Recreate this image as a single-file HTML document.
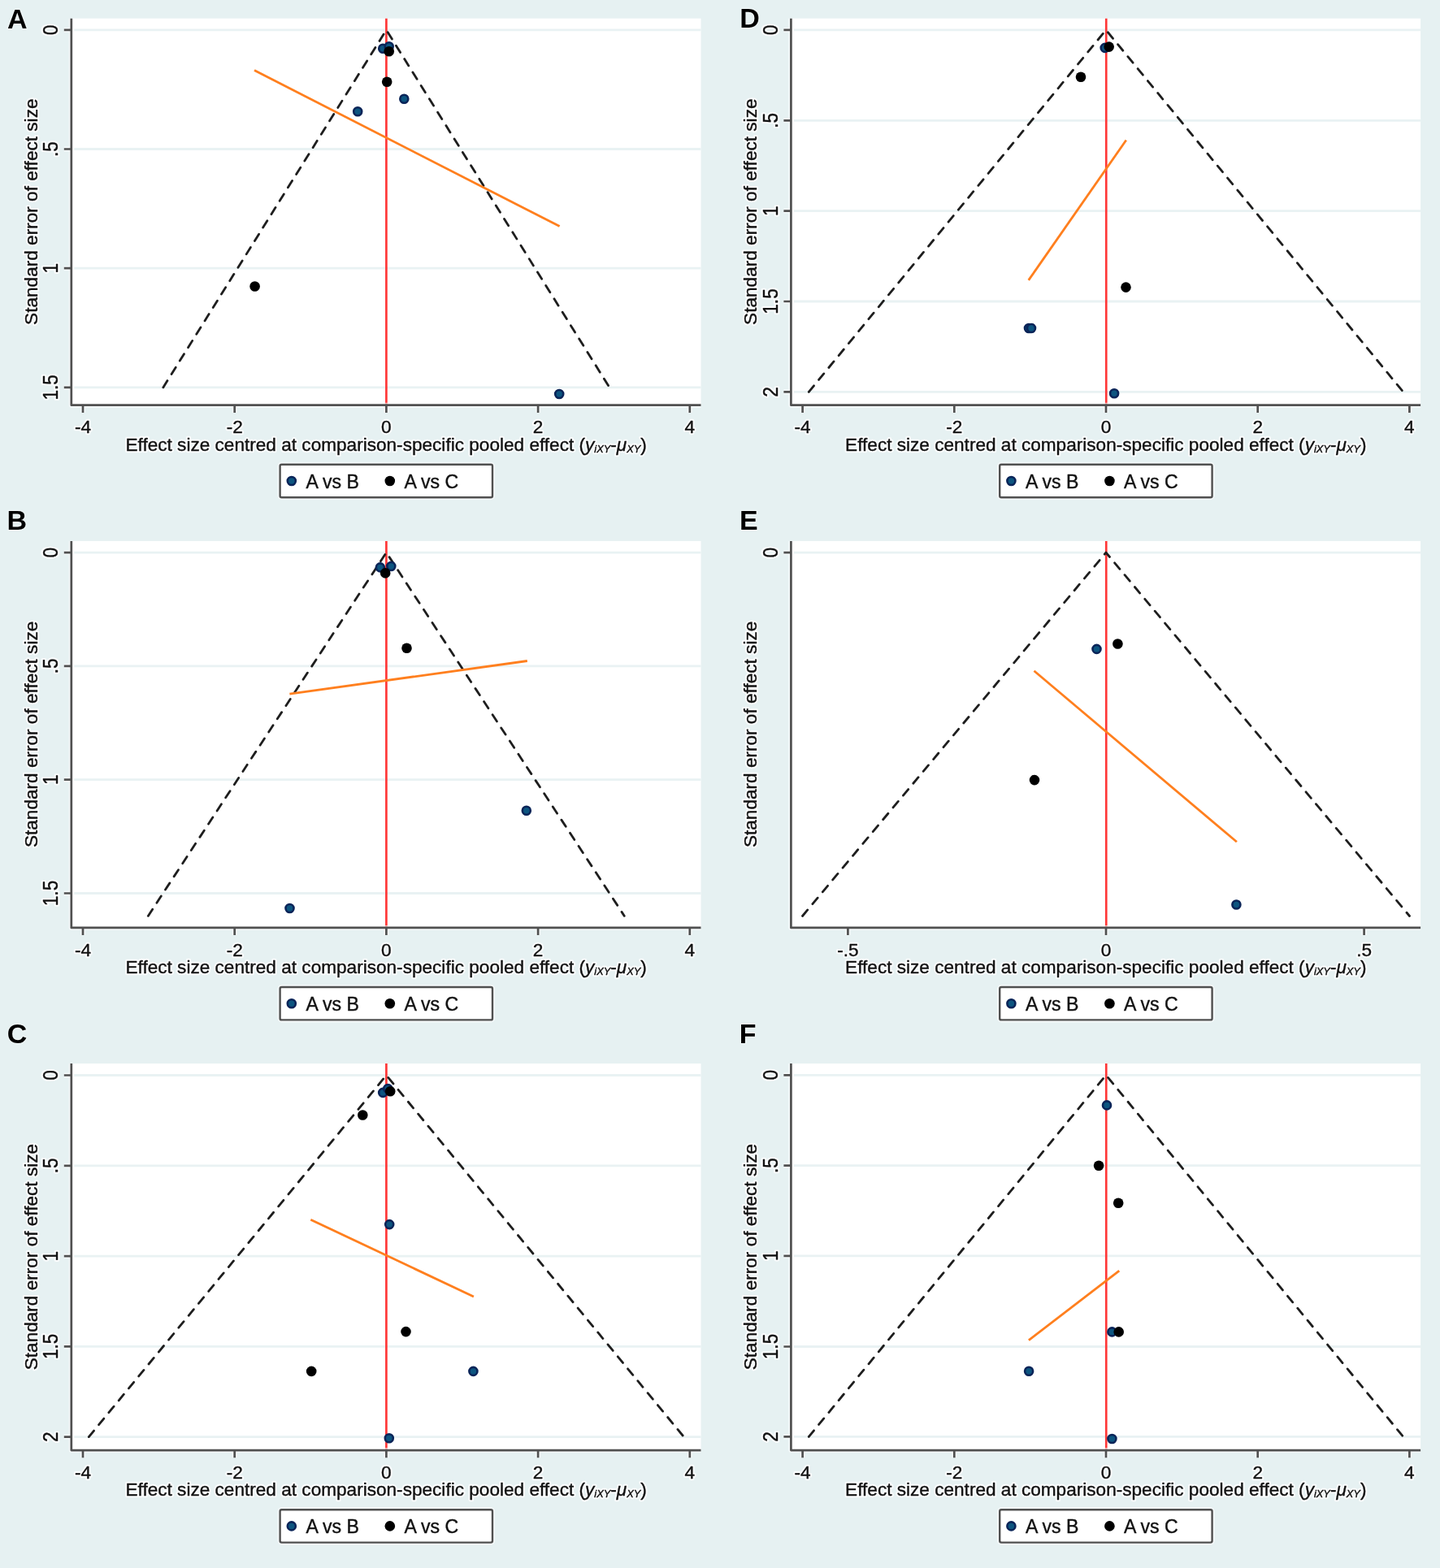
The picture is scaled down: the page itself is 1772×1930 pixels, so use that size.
<!DOCTYPE html>
<html><head><meta charset="utf-8"><title>Funnel plots</title>
<style>html,body{margin:0;padding:0;background:#e6f1f2;}svg{display:block;}text{font-family:'Liberation Sans', Arial, Helvetica, sans-serif;font-size:22.6px;}.t{fill:#111;stroke:#111;stroke-width:0.4px;stroke-linejoin:round;}.h{fill:none;stroke:#fff;stroke-width:4.4px;stroke-opacity:0.8;stroke-linejoin:round;}.m{text-anchor:middle;}</style></head><body>
<svg width="1772" height="1930" viewBox="0 0 1772 1930">
<rect x="0" y="0" width="1772" height="1930" fill="#e6f1f2"/>
<g>
<rect x="87.8" y="22.7" width="774.7" height="476" fill="#ffffff"/>
<line x1="91.3" y1="36.9" x2="862.5" y2="36.9" stroke="#e9f2f3" stroke-width="2.8"/>
<line x1="91.3" y1="183.5" x2="862.5" y2="183.5" stroke="#e9f2f3" stroke-width="2.8"/>
<line x1="91.3" y1="330.2" x2="862.5" y2="330.2" stroke="#e9f2f3" stroke-width="2.8"/>
<line x1="91.3" y1="476.9" x2="862.5" y2="476.9" stroke="#e9f2f3" stroke-width="2.8"/>
<line x1="475.4" y1="22.7" x2="475.4" y2="498.7" stroke="#ff3838" stroke-width="2.7"/>
<path d="M200.8 476.9L475.4 36.9L750 476.9" fill="none" stroke="#1e1e1e" stroke-width="2.8" stroke-dasharray="9.8 9.535" stroke-linecap="round" stroke-linejoin="round"/>
<line x1="313" y1="86.5" x2="688.6" y2="278.6" stroke="#ff7f1e" stroke-width="2.8"/>
<circle cx="471.2" cy="59.7" r="5.0" fill="#0d5580" stroke="#0a2458" stroke-width="2.6"/>
<circle cx="478.7" cy="57.2" r="5.0" fill="#0d5580" stroke="#0a2458" stroke-width="2.6"/>
<circle cx="478.7" cy="63.2" r="6.3" fill="#000000"/>
<circle cx="476.2" cy="100.7" r="6.3" fill="#000000"/>
<circle cx="497.3" cy="121.8" r="5.0" fill="#0d5580" stroke="#0a2458" stroke-width="2.6"/>
<circle cx="440.2" cy="137.2" r="5.0" fill="#0d5580" stroke="#0a2458" stroke-width="2.6"/>
<circle cx="688.2" cy="485" r="5.0" fill="#0d5580" stroke="#0a2458" stroke-width="2.6"/>
<circle cx="313.6" cy="352.5" r="6.3" fill="#000000"/>
<path d="M87.8 22.7L87.8 498.7L862.5 498.7M78.8 36.9H87.8M78.8 183.5H87.8M78.8 330.2H87.8M78.8 476.9H87.8M102 498.7V507.9M288.7 498.7V507.9M475.4 498.7V507.9M662.1 498.7V507.9M848.8 498.7V507.9" fill="none" stroke="#fff" stroke-opacity="0.6" stroke-width="6" stroke-linejoin="round"/>
<path d="M87.8 22.7L87.8 498.7L862.5 498.7M78.8 36.9H87.8M78.8 183.5H87.8M78.8 330.2H87.8M78.8 476.9H87.8M102 498.7V507.9M288.7 498.7V507.9M475.4 498.7V507.9M662.1 498.7V507.9M848.8 498.7V507.9" fill="none" stroke="#505050" stroke-width="2.7" stroke-linejoin="round"/>
<text transform="translate(70.9 36.9) rotate(-90) scale(1 1.12)" class="h m">0</text>
<text transform="translate(70.9 36.9) rotate(-90) scale(1 1.12)" class="t m">0</text>
<text transform="translate(70.9 183.5) rotate(-90) scale(1 1.12)" class="h m">.5</text>
<text transform="translate(70.9 183.5) rotate(-90) scale(1 1.12)" class="t m">.5</text>
<text transform="translate(70.9 330.2) rotate(-90) scale(1 1.12)" class="h m">1</text>
<text transform="translate(70.9 330.2) rotate(-90) scale(1 1.12)" class="t m">1</text>
<text transform="translate(70.9 476.9) rotate(-90) scale(1 1.12)" class="h m">1.5</text>
<text transform="translate(70.9 476.9) rotate(-90) scale(1 1.12)" class="t m">1.5</text>
<text x="102" y="533.4" class="h m">-4</text>
<text x="102" y="533.4" class="t m">-4</text>
<text x="288.7" y="533.4" class="h m">-2</text>
<text x="288.7" y="533.4" class="t m">-2</text>
<text x="475.4" y="533.4" class="h m">0</text>
<text x="475.4" y="533.4" class="t m">0</text>
<text x="662.1" y="533.4" class="h m">2</text>
<text x="662.1" y="533.4" class="t m">2</text>
<text x="848.8" y="533.4" class="h m">4</text>
<text x="848.8" y="533.4" class="t m">4</text>
<text x="475.15" y="554.9" class="h m">Effect size centred at comparison-specific pooled effect (<tspan font-style="italic">y</tspan><tspan font-style="italic" font-size="12.8" dy="1.6">iXY</tspan><tspan dy="-1.6">-</tspan><tspan font-style="italic">&#956;</tspan><tspan font-style="italic" font-size="12.8" dy="1.6">XY</tspan><tspan dy="-1.6">)</tspan></text>
<text x="475.15" y="554.9" class="t m">Effect size centred at comparison-specific pooled effect (<tspan font-style="italic">y</tspan><tspan font-style="italic" font-size="12.8" dy="1.6">iXY</tspan><tspan dy="-1.6">-</tspan><tspan font-style="italic">&#956;</tspan><tspan font-style="italic" font-size="12.8" dy="1.6">XY</tspan><tspan dy="-1.6">)</tspan></text>
<text transform="translate(45.6 260.7) rotate(-90)" class="h m">Standard error of effect size</text>
<text transform="translate(45.6 260.7) rotate(-90)" class="t m">Standard error of effect size</text>
<rect x="344.6" y="571.8" width="261.4" height="40.4" rx="2" ry="2" fill="none" stroke="#fff" stroke-opacity="0.6" stroke-width="6"/>
<rect x="344.6" y="571.8" width="261.4" height="40.4" rx="2" ry="2" fill="#ffffff" stroke="#505050" stroke-width="2.4"/>
<circle cx="358.8" cy="592" r="5.0" fill="#0d5580" stroke="#0a2458" stroke-width="2.6"/>
<text x="376.4" y="600.9" class="h" style="font-size:23.1px">A vs B</text>
<text x="376.4" y="600.9" class="t" style="font-size:23.1px">A vs B</text>
<circle cx="479.8" cy="592" r="6.3" fill="#000000"/>
<text x="497.4" y="600.9" class="h" style="font-size:23.1px">A vs C</text>
<text x="497.4" y="600.9" class="t" style="font-size:23.1px">A vs C</text>
</g>
<text x="8.97" y="34.6" style="font-size:34px;font-weight:bold" fill="#000" stroke="#fff" stroke-width="2.5" stroke-opacity="0.35" paint-order="stroke">A</text>
<g>
<rect x="87.8" y="665.9" width="774.7" height="476" fill="#ffffff"/>
<line x1="91.3" y1="680.1" x2="862.5" y2="680.1" stroke="#e9f2f3" stroke-width="2.8"/>
<line x1="91.3" y1="819.9" x2="862.5" y2="819.9" stroke="#e9f2f3" stroke-width="2.8"/>
<line x1="91.3" y1="959.7" x2="862.5" y2="959.7" stroke="#e9f2f3" stroke-width="2.8"/>
<line x1="91.3" y1="1099.5" x2="862.5" y2="1099.5" stroke="#e9f2f3" stroke-width="2.8"/>
<line x1="475.4" y1="665.9" x2="475.4" y2="1141.9" stroke="#ff3838" stroke-width="2.7"/>
<path d="M182.3 1127.4L475.4 680.1L768.3 1127.4" fill="none" stroke="#1e1e1e" stroke-width="2.8" stroke-dasharray="9.8 9.535" stroke-linecap="round" stroke-linejoin="round"/>
<line x1="356.4" y1="854.1" x2="648.8" y2="813.5" stroke="#ff7f1e" stroke-width="2.8"/>
<circle cx="467.9" cy="698.4" r="5.0" fill="#0d5580" stroke="#0a2458" stroke-width="2.6"/>
<circle cx="481.3" cy="697" r="5.0" fill="#0d5580" stroke="#0a2458" stroke-width="2.6"/>
<circle cx="474.2" cy="705.4" r="6.3" fill="#000000"/>
<circle cx="500.5" cy="797.7" r="6.3" fill="#000000"/>
<circle cx="647.8" cy="997.7" r="5.0" fill="#0d5580" stroke="#0a2458" stroke-width="2.6"/>
<circle cx="356.5" cy="1118" r="5.0" fill="#0d5580" stroke="#0a2458" stroke-width="2.6"/>
<path d="M87.8 665.9L87.8 1141.9L862.5 1141.9M78.8 680.1H87.8M78.8 819.9H87.8M78.8 959.7H87.8M78.8 1099.5H87.8M102 1141.9V1151.1M288.7 1141.9V1151.1M475.4 1141.9V1151.1M662.1 1141.9V1151.1M848.8 1141.9V1151.1" fill="none" stroke="#fff" stroke-opacity="0.6" stroke-width="6" stroke-linejoin="round"/>
<path d="M87.8 665.9L87.8 1141.9L862.5 1141.9M78.8 680.1H87.8M78.8 819.9H87.8M78.8 959.7H87.8M78.8 1099.5H87.8M102 1141.9V1151.1M288.7 1141.9V1151.1M475.4 1141.9V1151.1M662.1 1141.9V1151.1M848.8 1141.9V1151.1" fill="none" stroke="#505050" stroke-width="2.7" stroke-linejoin="round"/>
<text transform="translate(70.9 680.1) rotate(-90) scale(1 1.12)" class="h m">0</text>
<text transform="translate(70.9 680.1) rotate(-90) scale(1 1.12)" class="t m">0</text>
<text transform="translate(70.9 819.9) rotate(-90) scale(1 1.12)" class="h m">.5</text>
<text transform="translate(70.9 819.9) rotate(-90) scale(1 1.12)" class="t m">.5</text>
<text transform="translate(70.9 959.7) rotate(-90) scale(1 1.12)" class="h m">1</text>
<text transform="translate(70.9 959.7) rotate(-90) scale(1 1.12)" class="t m">1</text>
<text transform="translate(70.9 1099.5) rotate(-90) scale(1 1.12)" class="h m">1.5</text>
<text transform="translate(70.9 1099.5) rotate(-90) scale(1 1.12)" class="t m">1.5</text>
<text x="102" y="1176.6" class="h m">-4</text>
<text x="102" y="1176.6" class="t m">-4</text>
<text x="288.7" y="1176.6" class="h m">-2</text>
<text x="288.7" y="1176.6" class="t m">-2</text>
<text x="475.4" y="1176.6" class="h m">0</text>
<text x="475.4" y="1176.6" class="t m">0</text>
<text x="662.1" y="1176.6" class="h m">2</text>
<text x="662.1" y="1176.6" class="t m">2</text>
<text x="848.8" y="1176.6" class="h m">4</text>
<text x="848.8" y="1176.6" class="t m">4</text>
<text x="475.15" y="1198.1" class="h m">Effect size centred at comparison-specific pooled effect (<tspan font-style="italic">y</tspan><tspan font-style="italic" font-size="12.8" dy="1.6">iXY</tspan><tspan dy="-1.6">-</tspan><tspan font-style="italic">&#956;</tspan><tspan font-style="italic" font-size="12.8" dy="1.6">XY</tspan><tspan dy="-1.6">)</tspan></text>
<text x="475.15" y="1198.1" class="t m">Effect size centred at comparison-specific pooled effect (<tspan font-style="italic">y</tspan><tspan font-style="italic" font-size="12.8" dy="1.6">iXY</tspan><tspan dy="-1.6">-</tspan><tspan font-style="italic">&#956;</tspan><tspan font-style="italic" font-size="12.8" dy="1.6">XY</tspan><tspan dy="-1.6">)</tspan></text>
<text transform="translate(45.6 903.9) rotate(-90)" class="h m">Standard error of effect size</text>
<text transform="translate(45.6 903.9) rotate(-90)" class="t m">Standard error of effect size</text>
<rect x="344.6" y="1215" width="261.4" height="40.4" rx="2" ry="2" fill="none" stroke="#fff" stroke-opacity="0.6" stroke-width="6"/>
<rect x="344.6" y="1215" width="261.4" height="40.4" rx="2" ry="2" fill="#ffffff" stroke="#505050" stroke-width="2.4"/>
<circle cx="358.8" cy="1235.2" r="5.0" fill="#0d5580" stroke="#0a2458" stroke-width="2.6"/>
<text x="376.4" y="1244.1" class="h" style="font-size:23.1px">A vs B</text>
<text x="376.4" y="1244.1" class="t" style="font-size:23.1px">A vs B</text>
<circle cx="479.8" cy="1235.2" r="6.3" fill="#000000"/>
<text x="497.4" y="1244.1" class="h" style="font-size:23.1px">A vs C</text>
<text x="497.4" y="1244.1" class="t" style="font-size:23.1px">A vs C</text>
</g>
<text x="8.5" y="651.9" style="font-size:34px;font-weight:bold" fill="#000" stroke="#fff" stroke-width="2.5" stroke-opacity="0.35" paint-order="stroke">B</text>
<g>
<rect x="87.8" y="1309.1" width="774.7" height="476" fill="#ffffff"/>
<line x1="91.3" y1="1323.5" x2="862.5" y2="1323.5" stroke="#e9f2f3" stroke-width="2.8"/>
<line x1="91.3" y1="1434.8" x2="862.5" y2="1434.8" stroke="#e9f2f3" stroke-width="2.8"/>
<line x1="91.3" y1="1546.1" x2="862.5" y2="1546.1" stroke="#e9f2f3" stroke-width="2.8"/>
<line x1="91.3" y1="1657.4" x2="862.5" y2="1657.4" stroke="#e9f2f3" stroke-width="2.8"/>
<line x1="91.3" y1="1768.6" x2="862.5" y2="1768.6" stroke="#e9f2f3" stroke-width="2.8"/>
<line x1="475.4" y1="1309.1" x2="475.4" y2="1785.1" stroke="#ff3838" stroke-width="2.7"/>
<path d="M109.3 1768.6L475.4 1323.5L841.5 1768.6" fill="none" stroke="#1e1e1e" stroke-width="2.8" stroke-dasharray="9.8 9.535" stroke-linecap="round" stroke-linejoin="round"/>
<line x1="382.3" y1="1501.2" x2="582.9" y2="1596" stroke="#ff7f1e" stroke-width="2.8"/>
<circle cx="471.2" cy="1344.9" r="5.0" fill="#0d5580" stroke="#0a2458" stroke-width="2.6"/>
<circle cx="477.3" cy="1340" r="5.0" fill="#0d5580" stroke="#0a2458" stroke-width="2.6"/>
<circle cx="480.2" cy="1343.2" r="6.3" fill="#000000"/>
<circle cx="446.3" cy="1372.5" r="6.3" fill="#000000"/>
<circle cx="479.2" cy="1507.1" r="5.0" fill="#0d5580" stroke="#0a2458" stroke-width="2.6"/>
<circle cx="499.5" cy="1639.1" r="6.3" fill="#000000"/>
<circle cx="383.2" cy="1687.9" r="6.3" fill="#000000"/>
<circle cx="582.4" cy="1687.9" r="5.0" fill="#0d5580" stroke="#0a2458" stroke-width="2.6"/>
<circle cx="478.8" cy="1770.3" r="5.0" fill="#0d5580" stroke="#0a2458" stroke-width="2.6"/>
<path d="M87.8 1309.1L87.8 1785.1L862.5 1785.1M78.8 1323.5H87.8M78.8 1434.8H87.8M78.8 1546.1H87.8M78.8 1657.4H87.8M78.8 1768.6H87.8M102 1785.1V1794.3M288.7 1785.1V1794.3M475.4 1785.1V1794.3M662.1 1785.1V1794.3M848.8 1785.1V1794.3" fill="none" stroke="#fff" stroke-opacity="0.6" stroke-width="6" stroke-linejoin="round"/>
<path d="M87.8 1309.1L87.8 1785.1L862.5 1785.1M78.8 1323.5H87.8M78.8 1434.8H87.8M78.8 1546.1H87.8M78.8 1657.4H87.8M78.8 1768.6H87.8M102 1785.1V1794.3M288.7 1785.1V1794.3M475.4 1785.1V1794.3M662.1 1785.1V1794.3M848.8 1785.1V1794.3" fill="none" stroke="#505050" stroke-width="2.7" stroke-linejoin="round"/>
<text transform="translate(70.9 1323.5) rotate(-90) scale(1 1.12)" class="h m">0</text>
<text transform="translate(70.9 1323.5) rotate(-90) scale(1 1.12)" class="t m">0</text>
<text transform="translate(70.9 1434.8) rotate(-90) scale(1 1.12)" class="h m">.5</text>
<text transform="translate(70.9 1434.8) rotate(-90) scale(1 1.12)" class="t m">.5</text>
<text transform="translate(70.9 1546.1) rotate(-90) scale(1 1.12)" class="h m">1</text>
<text transform="translate(70.9 1546.1) rotate(-90) scale(1 1.12)" class="t m">1</text>
<text transform="translate(70.9 1657.4) rotate(-90) scale(1 1.12)" class="h m">1.5</text>
<text transform="translate(70.9 1657.4) rotate(-90) scale(1 1.12)" class="t m">1.5</text>
<text transform="translate(70.9 1768.6) rotate(-90) scale(1 1.12)" class="h m">2</text>
<text transform="translate(70.9 1768.6) rotate(-90) scale(1 1.12)" class="t m">2</text>
<text x="102" y="1819.8" class="h m">-4</text>
<text x="102" y="1819.8" class="t m">-4</text>
<text x="288.7" y="1819.8" class="h m">-2</text>
<text x="288.7" y="1819.8" class="t m">-2</text>
<text x="475.4" y="1819.8" class="h m">0</text>
<text x="475.4" y="1819.8" class="t m">0</text>
<text x="662.1" y="1819.8" class="h m">2</text>
<text x="662.1" y="1819.8" class="t m">2</text>
<text x="848.8" y="1819.8" class="h m">4</text>
<text x="848.8" y="1819.8" class="t m">4</text>
<text x="475.15" y="1841.3" class="h m">Effect size centred at comparison-specific pooled effect (<tspan font-style="italic">y</tspan><tspan font-style="italic" font-size="12.8" dy="1.6">iXY</tspan><tspan dy="-1.6">-</tspan><tspan font-style="italic">&#956;</tspan><tspan font-style="italic" font-size="12.8" dy="1.6">XY</tspan><tspan dy="-1.6">)</tspan></text>
<text x="475.15" y="1841.3" class="t m">Effect size centred at comparison-specific pooled effect (<tspan font-style="italic">y</tspan><tspan font-style="italic" font-size="12.8" dy="1.6">iXY</tspan><tspan dy="-1.6">-</tspan><tspan font-style="italic">&#956;</tspan><tspan font-style="italic" font-size="12.8" dy="1.6">XY</tspan><tspan dy="-1.6">)</tspan></text>
<text transform="translate(45.6 1547.1) rotate(-90)" class="h m">Standard error of effect size</text>
<text transform="translate(45.6 1547.1) rotate(-90)" class="t m">Standard error of effect size</text>
<rect x="344.6" y="1858.2" width="261.4" height="40.4" rx="2" ry="2" fill="none" stroke="#fff" stroke-opacity="0.6" stroke-width="6"/>
<rect x="344.6" y="1858.2" width="261.4" height="40.4" rx="2" ry="2" fill="#ffffff" stroke="#505050" stroke-width="2.4"/>
<circle cx="358.8" cy="1878.4" r="5.0" fill="#0d5580" stroke="#0a2458" stroke-width="2.6"/>
<text x="376.4" y="1887.3" class="h" style="font-size:23.1px">A vs B</text>
<text x="376.4" y="1887.3" class="t" style="font-size:23.1px">A vs B</text>
<circle cx="479.8" cy="1878.4" r="6.3" fill="#000000"/>
<text x="497.4" y="1887.3" class="h" style="font-size:23.1px">A vs C</text>
<text x="497.4" y="1887.3" class="t" style="font-size:23.1px">A vs C</text>
</g>
<text x="8.84" y="1283.6" style="font-size:34px;font-weight:bold" fill="#000" stroke="#fff" stroke-width="2.5" stroke-opacity="0.35" paint-order="stroke">C</text>
<g>
<rect x="973.4" y="22.7" width="774.7" height="476" fill="#ffffff"/>
<line x1="976.9" y1="36.9" x2="1748.1" y2="36.9" stroke="#e9f2f3" stroke-width="2.8"/>
<line x1="976.9" y1="148.3" x2="1748.1" y2="148.3" stroke="#e9f2f3" stroke-width="2.8"/>
<line x1="976.9" y1="259.6" x2="1748.1" y2="259.6" stroke="#e9f2f3" stroke-width="2.8"/>
<line x1="976.9" y1="371" x2="1748.1" y2="371" stroke="#e9f2f3" stroke-width="2.8"/>
<line x1="976.9" y1="482.4" x2="1748.1" y2="482.4" stroke="#e9f2f3" stroke-width="2.8"/>
<line x1="1361.25" y1="22.7" x2="1361.25" y2="498.7" stroke="#ff3838" stroke-width="2.7"/>
<path d="M995.3 482.4L1361 36.9L1726.7 482.4" fill="none" stroke="#1e1e1e" stroke-width="2.8" stroke-dasharray="9.8 9.535" stroke-linecap="round" stroke-linejoin="round"/>
<line x1="1385.8" y1="172.5" x2="1265.7" y2="344.9" stroke="#ff7f1e" stroke-width="2.8"/>
<circle cx="1359.7" cy="58.9" r="5.0" fill="#0d5580" stroke="#0a2458" stroke-width="2.6"/>
<circle cx="1364.7" cy="57.6" r="6.3" fill="#000000"/>
<circle cx="1330" cy="94.8" r="6.3" fill="#000000"/>
<circle cx="1385.5" cy="353.6" r="6.3" fill="#000000"/>
<circle cx="1266" cy="404" r="5.0" fill="#0d5580" stroke="#0a2458" stroke-width="2.6"/>
<circle cx="1269" cy="404" r="5.0" fill="#0d5580" stroke="#0a2458" stroke-width="2.6"/>
<circle cx="1371.1" cy="484.2" r="5.0" fill="#0d5580" stroke="#0a2458" stroke-width="2.6"/>
<path d="M973.4 22.7L973.4 498.7L1748.1 498.7M964.4 36.9H973.4M964.4 148.3H973.4M964.4 259.6H973.4M964.4 371H973.4M964.4 482.4H973.4M987.6 498.7V507.9M1174.3 498.7V507.9M1361 498.7V507.9M1547.7 498.7V507.9M1734.4 498.7V507.9" fill="none" stroke="#fff" stroke-opacity="0.6" stroke-width="6" stroke-linejoin="round"/>
<path d="M973.4 22.7L973.4 498.7L1748.1 498.7M964.4 36.9H973.4M964.4 148.3H973.4M964.4 259.6H973.4M964.4 371H973.4M964.4 482.4H973.4M987.6 498.7V507.9M1174.3 498.7V507.9M1361 498.7V507.9M1547.7 498.7V507.9M1734.4 498.7V507.9" fill="none" stroke="#505050" stroke-width="2.7" stroke-linejoin="round"/>
<text transform="translate(956.5 36.9) rotate(-90) scale(1 1.12)" class="h m">0</text>
<text transform="translate(956.5 36.9) rotate(-90) scale(1 1.12)" class="t m">0</text>
<text transform="translate(956.5 148.3) rotate(-90) scale(1 1.12)" class="h m">.5</text>
<text transform="translate(956.5 148.3) rotate(-90) scale(1 1.12)" class="t m">.5</text>
<text transform="translate(956.5 259.6) rotate(-90) scale(1 1.12)" class="h m">1</text>
<text transform="translate(956.5 259.6) rotate(-90) scale(1 1.12)" class="t m">1</text>
<text transform="translate(956.5 371) rotate(-90) scale(1 1.12)" class="h m">1.5</text>
<text transform="translate(956.5 371) rotate(-90) scale(1 1.12)" class="t m">1.5</text>
<text transform="translate(956.5 482.4) rotate(-90) scale(1 1.12)" class="h m">2</text>
<text transform="translate(956.5 482.4) rotate(-90) scale(1 1.12)" class="t m">2</text>
<text x="987.6" y="533.4" class="h m">-4</text>
<text x="987.6" y="533.4" class="t m">-4</text>
<text x="1174.3" y="533.4" class="h m">-2</text>
<text x="1174.3" y="533.4" class="t m">-2</text>
<text x="1361" y="533.4" class="h m">0</text>
<text x="1361" y="533.4" class="t m">0</text>
<text x="1547.7" y="533.4" class="h m">2</text>
<text x="1547.7" y="533.4" class="t m">2</text>
<text x="1734.4" y="533.4" class="h m">4</text>
<text x="1734.4" y="533.4" class="t m">4</text>
<text x="1360.75" y="554.9" class="h m">Effect size centred at comparison-specific pooled effect (<tspan font-style="italic">y</tspan><tspan font-style="italic" font-size="12.8" dy="1.6">iXY</tspan><tspan dy="-1.6">-</tspan><tspan font-style="italic">&#956;</tspan><tspan font-style="italic" font-size="12.8" dy="1.6">XY</tspan><tspan dy="-1.6">)</tspan></text>
<text x="1360.75" y="554.9" class="t m">Effect size centred at comparison-specific pooled effect (<tspan font-style="italic">y</tspan><tspan font-style="italic" font-size="12.8" dy="1.6">iXY</tspan><tspan dy="-1.6">-</tspan><tspan font-style="italic">&#956;</tspan><tspan font-style="italic" font-size="12.8" dy="1.6">XY</tspan><tspan dy="-1.6">)</tspan></text>
<text transform="translate(931.2 260.7) rotate(-90)" class="h m">Standard error of effect size</text>
<text transform="translate(931.2 260.7) rotate(-90)" class="t m">Standard error of effect size</text>
<rect x="1230.2" y="571.8" width="261.4" height="40.4" rx="2" ry="2" fill="none" stroke="#fff" stroke-opacity="0.6" stroke-width="6"/>
<rect x="1230.2" y="571.8" width="261.4" height="40.4" rx="2" ry="2" fill="#ffffff" stroke="#505050" stroke-width="2.4"/>
<circle cx="1244.4" cy="592" r="5.0" fill="#0d5580" stroke="#0a2458" stroke-width="2.6"/>
<text x="1262" y="600.9" class="h" style="font-size:23.1px">A vs B</text>
<text x="1262" y="600.9" class="t" style="font-size:23.1px">A vs B</text>
<circle cx="1365.4" cy="592" r="6.3" fill="#000000"/>
<text x="1383" y="600.9" class="h" style="font-size:23.1px">A vs C</text>
<text x="1383" y="600.9" class="t" style="font-size:23.1px">A vs C</text>
</g>
<text x="910.2" y="34.2" style="font-size:34px;font-weight:bold" fill="#000" stroke="#fff" stroke-width="2.5" stroke-opacity="0.35" paint-order="stroke">D</text>
<g>
<rect x="973.4" y="665.9" width="774.7" height="476" fill="#ffffff"/>
<line x1="976.9" y1="680.1" x2="1748.1" y2="680.1" stroke="#e9f2f3" stroke-width="2.8"/>
<line x1="1361.25" y1="665.9" x2="1361.25" y2="1141.9" stroke="#ff3838" stroke-width="2.7"/>
<path d="M987.5 1127.5L1361 680.1L1734.5 1127.5" fill="none" stroke="#1e1e1e" stroke-width="2.8" stroke-dasharray="9.8 9.535" stroke-linecap="round" stroke-linejoin="round"/>
<line x1="1272.5" y1="825.7" x2="1521.9" y2="1036.3" stroke="#ff7f1e" stroke-width="2.8"/>
<circle cx="1349.5" cy="798.9" r="5.0" fill="#0d5580" stroke="#0a2458" stroke-width="2.6"/>
<circle cx="1375.4" cy="792.5" r="6.3" fill="#000000"/>
<circle cx="1273" cy="960.1" r="6.3" fill="#000000"/>
<circle cx="1521.4" cy="1113.5" r="5.0" fill="#0d5580" stroke="#0a2458" stroke-width="2.6"/>
<path d="M973.4 665.9L973.4 1141.9L1748.1 1141.9M964.4 680.1H973.4M1043.4 1141.9V1151.1M1361 1141.9V1151.1M1678.6 1141.9V1151.1" fill="none" stroke="#fff" stroke-opacity="0.6" stroke-width="6" stroke-linejoin="round"/>
<path d="M973.4 665.9L973.4 1141.9L1748.1 1141.9M964.4 680.1H973.4M1043.4 1141.9V1151.1M1361 1141.9V1151.1M1678.6 1141.9V1151.1" fill="none" stroke="#505050" stroke-width="2.7" stroke-linejoin="round"/>
<text transform="translate(956.5 680.1) rotate(-90) scale(1 1.12)" class="h m">0</text>
<text transform="translate(956.5 680.1) rotate(-90) scale(1 1.12)" class="t m">0</text>
<text x="1043.4" y="1176.6" class="h m">-.5</text>
<text x="1043.4" y="1176.6" class="t m">-.5</text>
<text x="1361" y="1176.6" class="h m">0</text>
<text x="1361" y="1176.6" class="t m">0</text>
<text x="1678.6" y="1176.6" class="h m">.5</text>
<text x="1678.6" y="1176.6" class="t m">.5</text>
<text x="1360.75" y="1198.1" class="h m">Effect size centred at comparison-specific pooled effect (<tspan font-style="italic">y</tspan><tspan font-style="italic" font-size="12.8" dy="1.6">iXY</tspan><tspan dy="-1.6">-</tspan><tspan font-style="italic">&#956;</tspan><tspan font-style="italic" font-size="12.8" dy="1.6">XY</tspan><tspan dy="-1.6">)</tspan></text>
<text x="1360.75" y="1198.1" class="t m">Effect size centred at comparison-specific pooled effect (<tspan font-style="italic">y</tspan><tspan font-style="italic" font-size="12.8" dy="1.6">iXY</tspan><tspan dy="-1.6">-</tspan><tspan font-style="italic">&#956;</tspan><tspan font-style="italic" font-size="12.8" dy="1.6">XY</tspan><tspan dy="-1.6">)</tspan></text>
<text transform="translate(931.2 903.9) rotate(-90)" class="h m">Standard error of effect size</text>
<text transform="translate(931.2 903.9) rotate(-90)" class="t m">Standard error of effect size</text>
<rect x="1230.2" y="1215" width="261.4" height="40.4" rx="2" ry="2" fill="none" stroke="#fff" stroke-opacity="0.6" stroke-width="6"/>
<rect x="1230.2" y="1215" width="261.4" height="40.4" rx="2" ry="2" fill="#ffffff" stroke="#505050" stroke-width="2.4"/>
<circle cx="1244.4" cy="1235.2" r="5.0" fill="#0d5580" stroke="#0a2458" stroke-width="2.6"/>
<text x="1262" y="1244.1" class="h" style="font-size:23.1px">A vs B</text>
<text x="1262" y="1244.1" class="t" style="font-size:23.1px">A vs B</text>
<circle cx="1365.4" cy="1235.2" r="6.3" fill="#000000"/>
<text x="1383" y="1244.1" class="h" style="font-size:23.1px">A vs C</text>
<text x="1383" y="1244.1" class="t" style="font-size:23.1px">A vs C</text>
</g>
<text x="909.9" y="651.9" style="font-size:34px;font-weight:bold" fill="#000" stroke="#fff" stroke-width="2.5" stroke-opacity="0.35" paint-order="stroke">E</text>
<g>
<rect x="973.4" y="1309.1" width="774.7" height="476" fill="#ffffff"/>
<line x1="976.9" y1="1323.3" x2="1748.1" y2="1323.3" stroke="#e9f2f3" stroke-width="2.8"/>
<line x1="976.9" y1="1434.7" x2="1748.1" y2="1434.7" stroke="#e9f2f3" stroke-width="2.8"/>
<line x1="976.9" y1="1545.8" x2="1748.1" y2="1545.8" stroke="#e9f2f3" stroke-width="2.8"/>
<line x1="976.9" y1="1657.5" x2="1748.1" y2="1657.5" stroke="#e9f2f3" stroke-width="2.8"/>
<line x1="976.9" y1="1768.4" x2="1748.1" y2="1768.4" stroke="#e9f2f3" stroke-width="2.8"/>
<line x1="1361.25" y1="1309.1" x2="1361.25" y2="1785.1" stroke="#ff3838" stroke-width="2.7"/>
<path d="M995.3 1768.4L1361 1323.3L1726.7 1768.4" fill="none" stroke="#1e1e1e" stroke-width="2.8" stroke-dasharray="9.8 9.535" stroke-linecap="round" stroke-linejoin="round"/>
<line x1="1377.3" y1="1564.2" x2="1265.9" y2="1649.7" stroke="#ff7f1e" stroke-width="2.8"/>
<circle cx="1362" cy="1360.4" r="5.0" fill="#0d5580" stroke="#0a2458" stroke-width="2.6"/>
<circle cx="1352.1" cy="1434.7" r="6.3" fill="#000000"/>
<circle cx="1376.2" cy="1480.8" r="6.3" fill="#000000"/>
<circle cx="1368.4" cy="1639.4" r="5.0" fill="#0d5580" stroke="#0a2458" stroke-width="2.6"/>
<circle cx="1376.7" cy="1639.4" r="6.3" fill="#000000"/>
<circle cx="1266.1" cy="1687.8" r="5.0" fill="#0d5580" stroke="#0a2458" stroke-width="2.6"/>
<circle cx="1368.4" cy="1771" r="5.0" fill="#0d5580" stroke="#0a2458" stroke-width="2.6"/>
<path d="M973.4 1309.1L973.4 1785.1L1748.1 1785.1M964.4 1323.3H973.4M964.4 1434.7H973.4M964.4 1545.8H973.4M964.4 1657.5H973.4M964.4 1768.4H973.4M987.6 1785.1V1794.3M1174.3 1785.1V1794.3M1361 1785.1V1794.3M1547.7 1785.1V1794.3M1734.4 1785.1V1794.3" fill="none" stroke="#fff" stroke-opacity="0.6" stroke-width="6" stroke-linejoin="round"/>
<path d="M973.4 1309.1L973.4 1785.1L1748.1 1785.1M964.4 1323.3H973.4M964.4 1434.7H973.4M964.4 1545.8H973.4M964.4 1657.5H973.4M964.4 1768.4H973.4M987.6 1785.1V1794.3M1174.3 1785.1V1794.3M1361 1785.1V1794.3M1547.7 1785.1V1794.3M1734.4 1785.1V1794.3" fill="none" stroke="#505050" stroke-width="2.7" stroke-linejoin="round"/>
<text transform="translate(956.5 1323.3) rotate(-90) scale(1 1.12)" class="h m">0</text>
<text transform="translate(956.5 1323.3) rotate(-90) scale(1 1.12)" class="t m">0</text>
<text transform="translate(956.5 1434.7) rotate(-90) scale(1 1.12)" class="h m">.5</text>
<text transform="translate(956.5 1434.7) rotate(-90) scale(1 1.12)" class="t m">.5</text>
<text transform="translate(956.5 1545.8) rotate(-90) scale(1 1.12)" class="h m">1</text>
<text transform="translate(956.5 1545.8) rotate(-90) scale(1 1.12)" class="t m">1</text>
<text transform="translate(956.5 1657.5) rotate(-90) scale(1 1.12)" class="h m">1.5</text>
<text transform="translate(956.5 1657.5) rotate(-90) scale(1 1.12)" class="t m">1.5</text>
<text transform="translate(956.5 1768.4) rotate(-90) scale(1 1.12)" class="h m">2</text>
<text transform="translate(956.5 1768.4) rotate(-90) scale(1 1.12)" class="t m">2</text>
<text x="987.6" y="1819.8" class="h m">-4</text>
<text x="987.6" y="1819.8" class="t m">-4</text>
<text x="1174.3" y="1819.8" class="h m">-2</text>
<text x="1174.3" y="1819.8" class="t m">-2</text>
<text x="1361" y="1819.8" class="h m">0</text>
<text x="1361" y="1819.8" class="t m">0</text>
<text x="1547.7" y="1819.8" class="h m">2</text>
<text x="1547.7" y="1819.8" class="t m">2</text>
<text x="1734.4" y="1819.8" class="h m">4</text>
<text x="1734.4" y="1819.8" class="t m">4</text>
<text x="1360.75" y="1841.3" class="h m">Effect size centred at comparison-specific pooled effect (<tspan font-style="italic">y</tspan><tspan font-style="italic" font-size="12.8" dy="1.6">iXY</tspan><tspan dy="-1.6">-</tspan><tspan font-style="italic">&#956;</tspan><tspan font-style="italic" font-size="12.8" dy="1.6">XY</tspan><tspan dy="-1.6">)</tspan></text>
<text x="1360.75" y="1841.3" class="t m">Effect size centred at comparison-specific pooled effect (<tspan font-style="italic">y</tspan><tspan font-style="italic" font-size="12.8" dy="1.6">iXY</tspan><tspan dy="-1.6">-</tspan><tspan font-style="italic">&#956;</tspan><tspan font-style="italic" font-size="12.8" dy="1.6">XY</tspan><tspan dy="-1.6">)</tspan></text>
<text transform="translate(931.2 1547.1) rotate(-90)" class="h m">Standard error of effect size</text>
<text transform="translate(931.2 1547.1) rotate(-90)" class="t m">Standard error of effect size</text>
<rect x="1230.2" y="1858.2" width="261.4" height="40.4" rx="2" ry="2" fill="none" stroke="#fff" stroke-opacity="0.6" stroke-width="6"/>
<rect x="1230.2" y="1858.2" width="261.4" height="40.4" rx="2" ry="2" fill="#ffffff" stroke="#505050" stroke-width="2.4"/>
<circle cx="1244.4" cy="1878.4" r="5.0" fill="#0d5580" stroke="#0a2458" stroke-width="2.6"/>
<text x="1262" y="1887.3" class="h" style="font-size:23.1px">A vs B</text>
<text x="1262" y="1887.3" class="t" style="font-size:23.1px">A vs B</text>
<circle cx="1365.4" cy="1878.4" r="6.3" fill="#000000"/>
<text x="1383" y="1887.3" class="h" style="font-size:23.1px">A vs C</text>
<text x="1383" y="1887.3" class="t" style="font-size:23.1px">A vs C</text>
</g>
<text x="909.7" y="1283.8" style="font-size:34px;font-weight:bold" fill="#000" stroke="#fff" stroke-width="2.5" stroke-opacity="0.35" paint-order="stroke">F</text>
</svg></body></html>
